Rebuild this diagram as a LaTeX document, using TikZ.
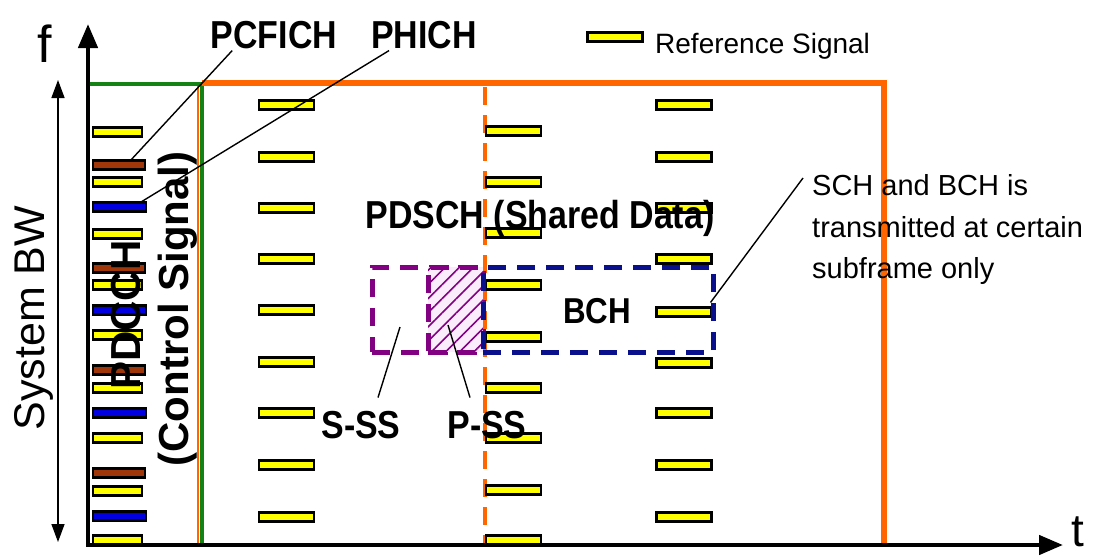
\documentclass[tikz,border=0pt]{standalone}
\usepackage{fontspec}
\setmainfont{Liberation Sans}
\usetikzlibrary{arrows.meta,patterns.meta,calc}
\definecolor{sorange}{RGB}{255,102,0}
\definecolor{sgreen}{RGB}{20,130,20}
\definecolor{sigyellow}{RGB}{255,255,0}
\definecolor{chbrown}{RGB}{160,55,10}
\definecolor{chblue}{RGB}{0,0,225}
\definecolor{snavy}{RGB}{10,15,140}
\definecolor{spurple}{RGB}{130,0,130}
\definecolor{hatchbg}{RGB}{250,236,250}
\newcommand{\cnd}[1]{\scalebox{0.87}[1]{#1}}
\begin{document}
\begin{tikzpicture}[x=1pt,y=-1pt,
  rsbar/.style={rectangle, draw=black, line width=2.5pt, fill=sigyellow, minimum width=55pt, minimum height=9pt, inner sep=0pt},
  cyel/.style={rsbar, minimum width=49pt},
  cbrn/.style={rsbar, fill=chbrown, minimum width=52pt},
  cblu/.style={rsbar, fill=chblue, minimum width=53pt},
  lbl/.style={font=\fontsize{39}{44}\selectfont\bfseries, inner sep=0pt, anchor=base},
  vlbl/.style={font=\fontsize{42}{46}\selectfont\bfseries, inner sep=0pt, rotate=90, anchor=base},
  plain/.style={inner sep=0pt, anchor=base west, font=\fontsize{29}{33}\selectfont},
  ptr/.style={draw=black, line width=1.4pt},
  axisline/.style={draw=black, line width=4.5pt, line join=miter},
  dashbox/.style={rectangle, line width=5pt, dash pattern=on 18pt off 11pt, inner sep=0pt}
]
\useasboundingbox (0,0) rectangle (1105,557);
\fill[white] (0,0) rectangle (1105,557);

% frames
\draw[sgreen, line width=4.5pt] (88,545) -- (88,84) -- (202,84) -- (202,545);
\draw[sorange, line width=2pt] (198,86) -- (198,545);
\draw[sorange, line width=6pt, line join=miter] (202,83) -- (884,83) -- (884,545);
\draw[sorange, line width=4pt, dash pattern=on 18pt off 10pt] (485,87) -- (485,545);

% reference signal columns
\foreach \y [count=\i] in {105,157,208,259,310,362,413,465,517}
  \node[rsbar] (ca\i) at (286.5,\y) {};
\foreach \y [count=\i] in {131,182,233,285,337,388,438,490,540}
  \node[rsbar] (cb\i) at (513.5,\y) {};
\foreach \y [count=\i] in {105,157,208,259,312,363,413,465,517}
  \node[rsbar] (cc\i) at (684,\y) {};

% control region bars
\foreach \y [count=\i] in {132,182,234,285,335,388,438,491,540}
  \node[cyel] (cy\i) at (117.5,\y) {};
\foreach \y [count=\i] in {165,268,370,473}
  \node[cbrn] (br\i) at (119,\y) {};
\foreach \y [count=\i] in {207,310,413,516}
  \node[cblu] (bl\i) at (119.5,\y) {};

% synchronisation / broadcast boxes
\node[dashbox, draw=spurple, minimum width=111pt, minimum height=85pt] (sss) at (427.5,309.5) {};
\node[dashbox, draw=spurple, minimum width=55pt, minimum height=85pt,
      preaction={fill=hatchbg},
      pattern={Lines[angle=45,distance=10pt,line width=1.6pt]}, pattern color=spurple] (pss) at (455.5,309.5) {};
\node[dashbox, draw=snavy, minimum width=230pt, minimum height=85pt] (bchbox) at (598,309.5) {};

% axes
\coordinate (origin) at (88,545);
\coordinate (ftip) at (88,24);
\coordinate (ttip) at (1063,545);
\draw[axisline, {Triangle[length=24pt,width=19pt]}-{Triangle[length=24pt,width=19pt]}] (ftip) -- (origin) -- (ttip);
\coordinate (bwtop) at (58,80);
\coordinate (bwbot) at (58,542);
\draw[black, line width=1.5pt, {Triangle[length=18pt,width=13pt]}-{Triangle[length=18pt,width=13pt]}] (bwtop) -- (bwbot);

% legend
\node[rsbar] (legbar) at (615,37) {};
\node[inner sep=0pt, anchor=base west, font=\fontsize{28}{32}\selectfont] (legtxt) at (655,53) {Reference Signal};

% labels
\node[font=\fontsize{52}{56}\selectfont, inner sep=0pt, anchor=base] (flbl) at (45,62) {f};
\node[font=\fontsize{46}{50}\selectfont, inner sep=0pt, anchor=base] (tlbl) at (1078,546) {t};
\node[font=\fontsize{43}{48}\selectfont, inner sep=0pt, rotate=90, anchor=base] (sbw) at (44,318) {System BW};
\node[lbl] (pcfich) at (274,48) {\cnd{PCFICH}};
\node[lbl] (phich) at (424,48) {\cnd{PHICH}};
\node[lbl] (pdsch) at (540,228) {\cnd{PDSCH (Shared Data)}};
\node[lbl, font=\fontsize{36}{40}\selectfont\bfseries] (bch) at (597,323) {\cnd{BCH}};
\node[lbl] (ssslbl) at (361,438) {\cnd{S-SS}};
\node[lbl] (psslbl) at (487,438) {\cnd{P-SS}};
\node[vlbl] (pdcch) at (140,315) {PDCCH};
\node[vlbl] (ctrl) at (188,309) {(Control Signal)};
\node[plain] (sch1) at (812,195) {SCH and BCH is};
\node[plain] (sch2) at (812,237) {transmitted at certain};
\node[plain] (sch3) at (812,278) {subframe only};

% pointers
\draw[ptr] ($(pcfich.south west)!0.17!(pcfich.south east)+(0,2)$) -- ($(br1.center)+(11,-4)$);
\draw[ptr] ($(phich.south west)!0.17!(phich.south east)+(0,2)$) -- ($(bl1.center)+(21.5,-5)$);
\draw[ptr] ($(sss.center)+(-27.5,17.5)$) -- ($(ssslbl.north)+(17,-13)$);
\draw[ptr] ($(pss.center)+(-7.5,15.5)$) -- ($(psslbl.north)+(-17,-13)$);
\draw[ptr] ($(sch1.base west)+(-9,-17)$) -- ($(bchbox.east)+(-5,-7)$);
\end{tikzpicture}
\end{document}
